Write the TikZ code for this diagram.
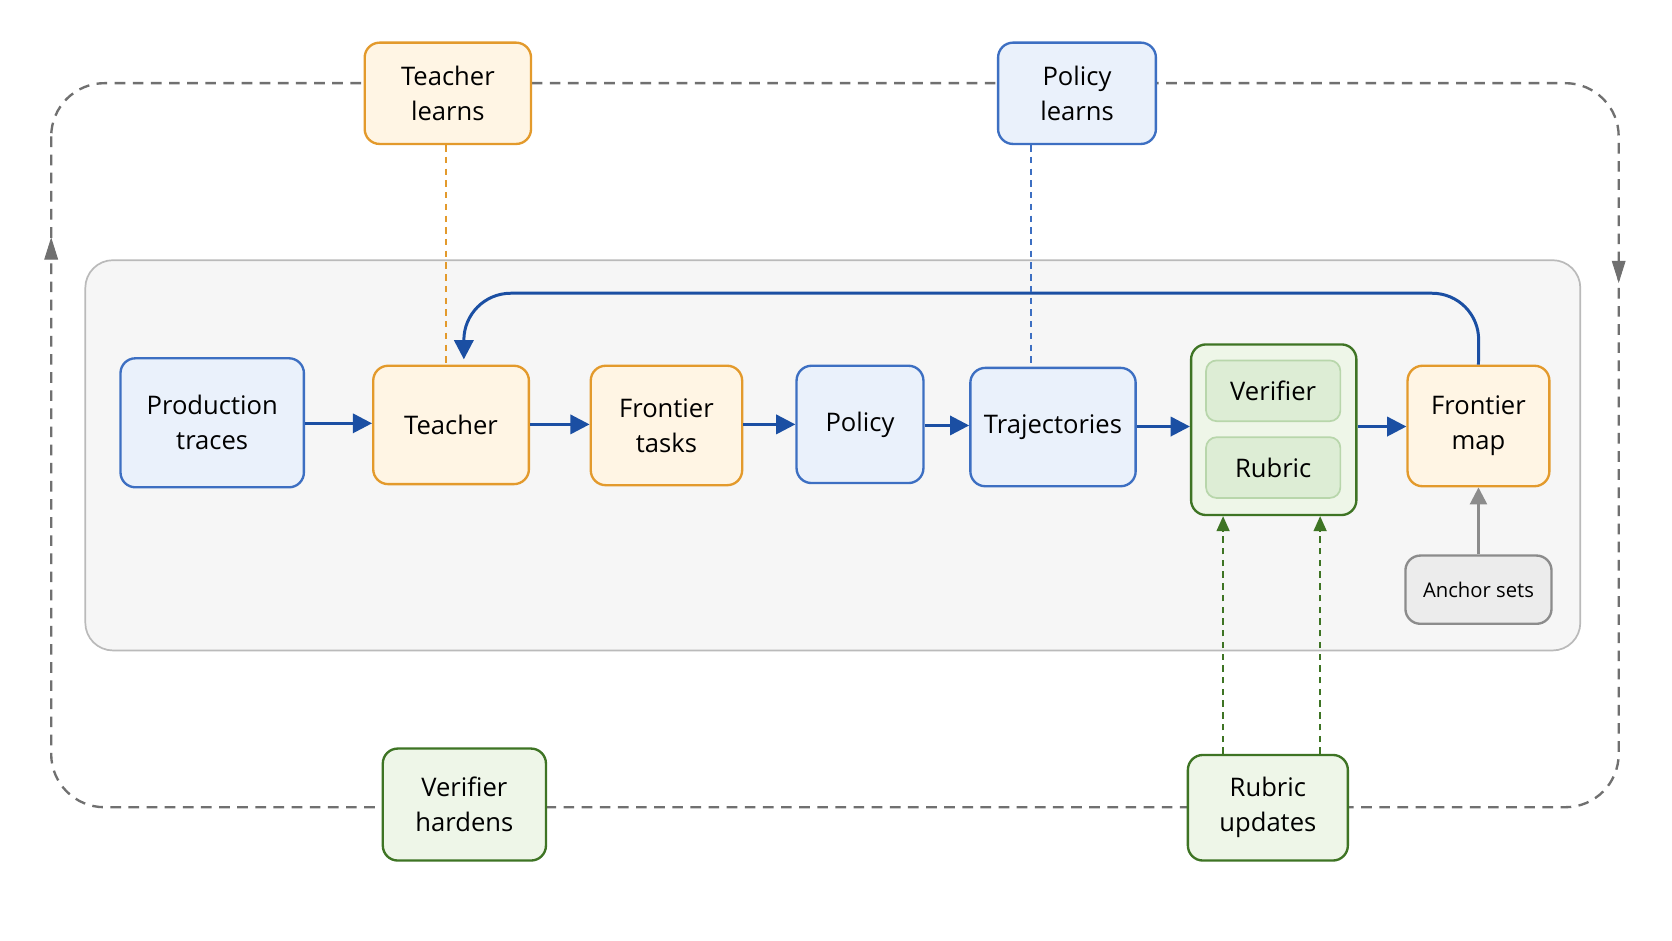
\documentclass[tikz,border=0pt]{standalone}
\usepackage{fontspec}
\setmainfont{Open Sans}
\usetikzlibrary{arrows.meta}
\definecolor{bB}{HTML}{3D6FC2}\definecolor{bF}{HTML}{EAF1FB}
\definecolor{oB}{HTML}{E39A2C}\definecolor{oF}{HTML}{FFF5E4}
\definecolor{gB}{HTML}{3E7424}\definecolor{gF}{HTML}{EEF6E8}
\definecolor{giB}{HTML}{B8D6AB}\definecolor{giF}{HTML}{DDEDD5}
\definecolor{aB}{HTML}{8C8C8C}\definecolor{aF}{HTML}{ECECEC}
\definecolor{arr}{HTML}{1B4FA3}\definecolor{lp}{HTML}{707070}
\newcommand{\bx}[7]{\node[#6,minimum width={(#4-#2)*0.5pt},minimum height={(#5-#3)*0.5pt}] (#1) at ({(#2+#4)/2},{(#3+#5)/2}) {#7};}
\begin{document}
\begin{tikzpicture}[x=0.5pt,y=-0.5pt,
 box/.style={rounded corners=7pt,line width=1.1pt,align=center,inner sep=0pt,font=\fontsize{12}{16.5}\selectfont},
 bl/.style={box,draw=bB,fill=bF},
 or/.style={box,draw=oB,fill=oF},
 gr/.style={box,draw=gB,fill=gF},
 gi/.style={box,draw=giB,fill=giF,line width=0.8pt,rounded corners=5pt},
 an/.style={box,draw=aB,fill=aF,font=\fontsize{9.5}{12}\selectfont},
 fl/.style={draw=arr,line width=1.4pt,-{Triangle[length=9pt,width=9pt]}},
 ld/.style={draw=lp,line width=1.1pt,dash pattern=on 5pt off 3.5pt}]
\useasboundingbox (0,0) rectangle (1568,882);
\fill[white] (0,0) rectangle (1568,882);
% loop
\draw[ld,rounded corners=25pt] (48,78) rectangle (1518,757);
\draw[draw=lp,fill=lp] (48,224) -- (42,243) -- (54,243) -- cycle;
\draw[draw=lp,fill=lp] (1518,264) -- (1512,245) -- (1524,245) -- cycle;
% panel
\draw[draw=black!27,fill=black!3.5,line width=0.8pt,rounded corners=13pt] (80,244) rectangle (1482,610);
\bx{tl}{342}{40}{498}{135}{or}{Teacher\\learns}
\bx{pl}{936}{40}{1084}{135}{bl}{Policy\\learns}
\bx{pt}{113}{336}{285}{457}{bl}{Production\\traces}
\bx{te}{350}{343}{496}{454}{or}{Teacher}
\bx{ft}{554}{343}{696}{455}{or}{Frontier\\tasks}
\bx{po}{747}{343}{866}{453}{bl}{Policy}
\bx{tr}{910}{345}{1065}{456}{bl}{Trajectories}
\bx{vg}{1117}{323}{1272}{483}{gr}{}
\bx{ve}{1131}{338}{1257}{395}{gi}{Verifier}
\bx{ru}{1131}{410}{1257}{467}{gi}{Rubric}
\bx{fm}{1320}{343}{1453}{456}{or}{Frontier\\map}
\bx{as}{1318}{521}{1455}{585}{an}{Anchor sets}
\bx{vh}{359}{702}{512}{807}{gr}{Verifier\\hardens}
\bx{rup}{1114}{708}{1264}{807}{gr}{Rubric\\updates}
% flow
\draw[fl] (pt.east |- 0,397) -- (te.west |- 0,397);
\draw[fl] (te.east |- 0,398) -- (ft.west |- 0,398);
\draw[fl] (ft.east |- 0,398) -- (po.west |- 0,398);
\draw[fl] (po.east |- 0,399) -- (tr.west |- 0,399);
\draw[fl] (tr.east |- 0,400) -- (vg.west |- 0,400);
\draw[fl] (vg.east |- 0,400) -- (fm.west |- 0,400);
\draw[fl,rounded corners=22pt] (fm.north) -- (1387,275) -- (435,275) -- (435,337);
\draw[draw=aB,line width=1.2pt,-{Triangle[length=8pt,width=8pt]}] (as) -- (fm);
\draw[draw=oB,line width=0.9pt,dash pattern=on 3pt off 2.5pt] (tl.south -| 418,0) -- (418,343);
\draw[draw=bB,line width=0.9pt,dash pattern=on 3pt off 2.5pt] (pl.south -| 967,0) -- (967,345);
\draw[draw=gB,line width=0.9pt,dash pattern=on 3pt off 2.5pt,-{Triangle[length=7pt,width=6pt]}] (rup.north -| 1147,0) -- (1147,484);
\draw[draw=gB,line width=0.9pt,dash pattern=on 3pt off 2.5pt,-{Triangle[length=7pt,width=6pt]}] (rup.north -| 1238,0) -- (1238,484);
\end{tikzpicture}
\end{document}
